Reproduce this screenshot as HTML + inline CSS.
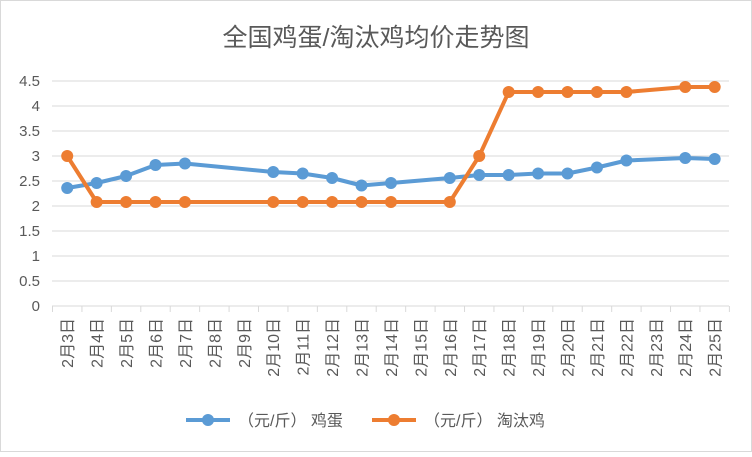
<!DOCTYPE html>
<html><head><meta charset="utf-8"><style>
body{margin:0;background:#fff}
svg text{font-family:"Liberation Sans","Noto Sans CJK SC",sans-serif}
</style></head><body>
<svg width="752" height="452" xmlns="http://www.w3.org/2000/svg">
<rect x="0.5" y="0.5" width="751" height="451" fill="#fff" stroke="#d9d9d9"/>
<text x="376" y="46" text-anchor="middle" font-size="25" fill="#595959">全国鸡蛋/淘汰鸡均价走势图</text>
<g stroke="#d9d9d9" stroke-width="1">
<line x1="52" x2="729" y1="81" y2="81"/><line x1="52" x2="729" y1="106" y2="106"/>
<line x1="52" x2="729" y1="131" y2="131"/><line x1="52" x2="729" y1="156" y2="156"/>
<line x1="52" x2="729" y1="181" y2="181"/><line x1="52" x2="729" y1="206" y2="206"/>
<line x1="52" x2="729" y1="231" y2="231"/><line x1="52" x2="729" y1="256" y2="256"/>
<line x1="52" x2="729" y1="281" y2="281"/><line x1="52" x2="729" y1="306" y2="306"/>
</g>
<g id="ticks" stroke="#d9d9d9"></g>
<g font-size="15" fill="#595959" text-anchor="end">
<text x="40" y="86">4.5</text><text x="40" y="111">4</text><text x="40" y="136">3.5</text>
<text x="40" y="161">3</text><text x="40" y="186">2.5</text><text x="40" y="211">2</text>
<text x="40" y="236">1.5</text><text x="40" y="261">1</text><text x="40" y="286">0.5</text>
<text x="40" y="311">0</text>
</g>
<g id="xl" font-size="16" fill="#595959"></g>
<polyline id="egg" fill="none" stroke="#5b9bd5" stroke-width="4" stroke-linejoin="round"/>
<polyline id="hen" fill="none" stroke="#ed7d31" stroke-width="4" stroke-linejoin="round"/>
<g id="dots"></g>
<line x1="186" x2="230" y1="420" y2="420" stroke="#5b9bd5" stroke-width="4"/>
<circle cx="208" cy="420" r="6" fill="#5b9bd5"/>
<text x="238" y="426" font-size="16" fill="#595959">（元/斤） 鸡蛋</text>
<line x1="372" x2="416" y1="420" y2="420" stroke="#ed7d31" stroke-width="4"/>
<circle cx="394" cy="420" r="6" fill="#ed7d31"/>
<text x="424" y="426" font-size="16" fill="#595959">（元/斤） 淘汰鸡</text>
</svg>
<script>
const ns="http://www.w3.org/2000/svg";
const x0=52.5,w=29.43;
const days=[3,4,5,6,7,8,9,10,11,12,13,14,15,16,17,18,19,20,21,22,23,24,25];
const egg={3:2.36,4:2.46,5:2.6,6:2.82,7:2.85,10:2.68,11:2.65,12:2.56,13:2.41,14:2.46,16:2.56,17:2.62,18:2.62,19:2.65,20:2.65,21:2.77,22:2.91,24:2.96,25:2.94};
const hen={3:3.0,4:2.08,5:2.08,6:2.08,7:2.08,10:2.08,11:2.08,12:2.08,13:2.08,14:2.08,16:2.08,17:3.0,18:4.28,19:4.28,20:4.28,21:4.28,22:4.28,24:4.38,25:4.38};
const t=document.getElementById('ticks'),xl=document.getElementById('xl'),dots=document.getElementById('dots');
for(let i=0;i<=23;i++){const l=document.createElementNS(ns,'line');const x=x0+i*w;l.setAttribute('x1',x);l.setAttribute('x2',x);l.setAttribute('y1',306);l.setAttribute('y2',312);t.appendChild(l);}
days.forEach((d,i)=>{const x=x0+(i+0.5)*w;const tx=document.createElementNS(ns,'text');tx.setAttribute('transform',`translate(${x+6},318) rotate(-90)`);tx.setAttribute('text-anchor','end');tx.textContent='2月'+d+'日';xl.appendChild(tx);});
function draw(data,id,c){const pts=[];days.forEach((d,i)=>{if(data[d]!==undefined){const x=x0+(i+0.5)*w,y=306-data[d]*50;pts.push(x+','+y);const ci=document.createElementNS(ns,'circle');ci.setAttribute('cx',x);ci.setAttribute('cy',y);ci.setAttribute('r',6);ci.setAttribute('fill',c);dots.appendChild(ci);}});document.getElementById(id).setAttribute('points',pts.join(' '));}
draw(egg,'egg','#5b9bd5');draw(hen,'hen','#ed7d31');
</script>
</body></html>
